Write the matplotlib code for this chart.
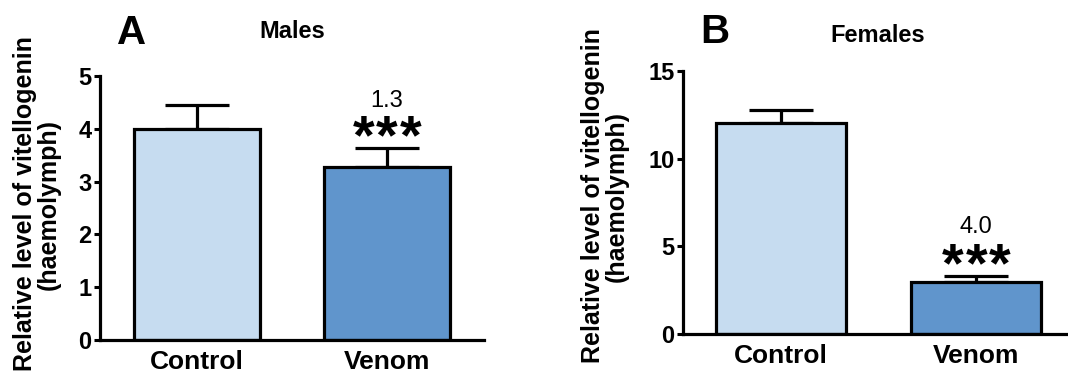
import matplotlib
matplotlib.use("Agg")
import matplotlib.pyplot as plt

plt.rcParams.update({"font.family": ["Liberation Sans", "DejaVu Sans"]})

groups = ["Control", "Venom"]
colors = ["#c6dcf0", "#6095cc"]

males_mean = [4.0, 3.28]
males_err = [0.46, 0.35]
males_fold = "1.3"

females_mean = [12.05, 2.97]
females_err = [0.75, 0.33]
females_fold = "4.0"

ylabel = "Relative level of vitellogenin\n(haemolymph)"

W, H = 1068, 374
fig = plt.figure(figsize=(W / 100, H / 100), dpi=100)
ax1 = fig.add_axes([100 / W, 34 / H, 384 / W, 264 / H])
ax2 = fig.add_axes([683 / W, 40 / H, 385 / W, 263 / H])


def panel(ax, means, errs, fold, ymax, step, xlim, star_y, fold_y):
    x = range(len(groups))
    ax.bar(x, means, width=0.667, color=colors, edgecolor="black", linewidth=2.3, zorder=2)
    ax.errorbar(x, means, yerr=[[0, 0], errs], fmt="none", ecolor="black",
                elinewidth=2.3, capsize=23, capthick=2.3, zorder=1)
    ax.set_xlim(*xlim)
    ax.set_ylim(0, ymax)
    ax.set_yticks(range(0, ymax + 1, step))
    ax.set_xticks(list(x))
    ax.set_xticklabels(groups, fontsize=19, fontweight="bold")
    for lab in ax.get_yticklabels():
        lab.set_fontsize(17)
        lab.set_fontweight("bold")
    ax.tick_params(axis="y", width=2.2, length=4, pad=2)
    ax.tick_params(axis="x", length=0, pad=7)
    for s in ["top", "right"]:
        ax.spines[s].set_visible(False)
    for s in ["left", "bottom"]:
        ax.spines[s].set_linewidth(2.3)
    # significance stars (spread out) and fold change above the treated bar
    for dx in (-17, 0, 17):
        ax.annotate("*", (1, star_y), xytext=(dx, 0), textcoords="offset points",
                    ha="center", va="baseline", fontsize=40, fontweight="bold")
    ax.text(1, fold_y, fold, ha="center", va="baseline", fontsize=17)


panel(ax1, males_mean, males_err, males_fold, 5, 1, (-0.51, 1.51), 3.53, 4.41)
panel(ax2, females_mean, females_err, females_fold, 15, 5, (-0.5, 1.47), 3.02, 5.76)

fig.text(37 / W, 1 - 204 / H, ylabel, rotation=90, ha="center", va="center",
         ma="center", fontsize=18, fontweight="bold", linespacing=1.0)
fig.text(605 / W, 1 - 196 / H, ylabel, rotation=90, ha="center", va="center",
         ma="center", fontsize=18, fontweight="bold", linespacing=1.0)

fig.text(292 / W, 1 - 31 / H, "Males", fontsize=17, fontweight="bold", ha="center", va="center")
fig.text(878 / W, 1 - 36 / H, "Females", fontsize=17, fontweight="bold", ha="center", va="center")
fig.text(132 / W, 1 - 33 / H, "A", fontsize=29, fontweight="bold", ha="center", va="center")
fig.text(715 / W, 1 - 32 / H, "B", fontsize=29, fontweight="bold", ha="center", va="center")

fig.savefig("out.png", dpi=100)
